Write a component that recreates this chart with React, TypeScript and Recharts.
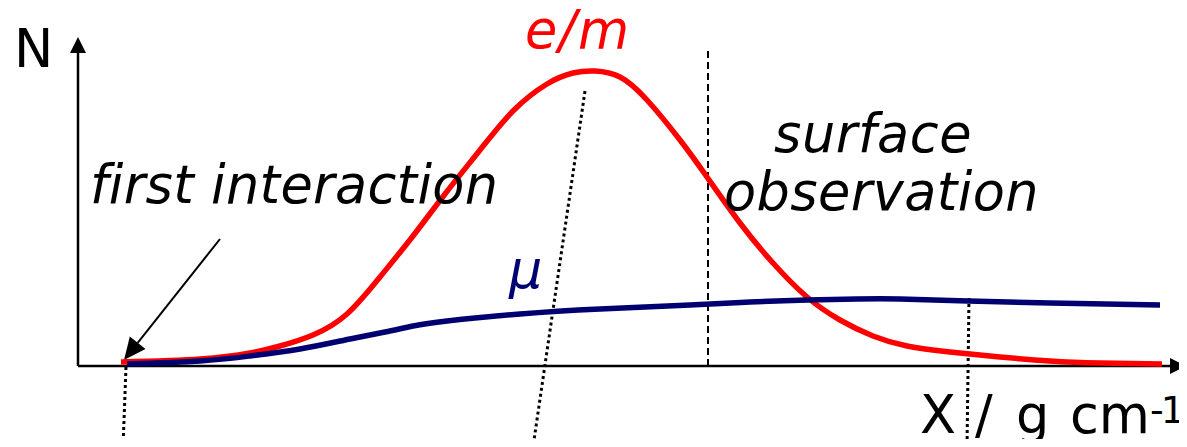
import React from "react";
import { ComposedChart, Line, XAxis, YAxis, ReferenceLine } from "recharts";

// depth (x) and counts (y), origin at the axes corner
const emDepth = [43, 122, 172, 202, 235, 269, 302, 335, 367, 402, 435, 469, 495, 517, 542, 569, 602, 629, 662, 695, 729, 762, 795, 829, 872, 922, 972, 1022, 1084];
const emCount = [4, 7, 13, 20, 31, 52, 89, 130, 172, 216, 255, 282, 293, 295, 289, 266, 226, 189, 143, 103, 69, 46, 30, 20, 14, 9, 5, 3, 2];

const muDepth = [49, 122, 172, 222, 272, 307, 335, 369, 442, 522, 612, 672, 729, 779, 822, 890, 972, 1082];
const muCount = [2, 5, 10, 17, 27, 34, 40, 45, 52, 57, 61, 64, 66, 67, 67, 65, 63, 61];

const emData = emDepth.map((x, i) => ({ x, y: emCount[i] }));
const muData = muDepth.map((x, i) => ({ x, y: muCount[i] }));

// guide lines (depth, count)
const surfaceDepth = 630;
const surfaceTop = 316;
const firstLine = [{ x: 48, y: -1 }, { x: 45, y: -81 }];
const maxLine = [{ x: 507, y: 275 }, { x: 455, y: -81 }];
const obsLine = [{ x: 891, y: 68 }, { x: 889, y: -81 }];
const pointer = [{ x: 142, y: 127 }, { x: 46, y: 6 }];
const xAxisLine = [{ x: 0, y: 0 }, { x: 1108, y: 0 }];
const yAxisLine = [{ x: 0, y: 0 }, { x: 0, y: 329 }];

const FONT = "'DejaVu Sans', Verdana, sans-serif";

const arrowShape = (w: number, len: number, half: number) => (props: any) => {
  const x1 = Number(props.x1), y1 = Number(props.y1), x2 = Number(props.x2), y2 = Number(props.y2);
  const a = Math.atan2(y2 - y1, x2 - x1);
  const bx = x2 - len * Math.cos(a);
  const by = y2 - len * Math.sin(a);
  const px = -Math.sin(a) * half;
  const py = Math.cos(a) * half;
  return (
    <g>
      <line x1={x1} y1={y1} x2={bx} y2={by} stroke="#000" strokeWidth={w} />
      <polygon points={`${x2},${y2} ${bx + px},${by + py} ${bx - px},${by - py}`} fill="#000" />
    </g>
  );
};

export default function App() {
  return (
    <div style={{ position: "relative", width: 1187, height: 447, margin: -8, background: "#fff" }}>
      <ComposedChart width={1187} height={447} margin={{ top: 0, right: 0, bottom: 0, left: 0 }}>
        <XAxis type="number" dataKey="x" domain={[-78, 1109]} hide allowDataOverflow />
        <YAxis type="number" dataKey="y" domain={[-81, 366]} hide allowDataOverflow />
        <ReferenceLine segment={xAxisLine} shape={arrowShape(2.5, 16, 8)} />
        <ReferenceLine segment={yAxisLine} shape={arrowShape(2.5, 16, 8)} />
        <ReferenceLine
          segment={[{ x: surfaceDepth, y: 0 }, { x: surfaceDepth, y: surfaceTop }]}
          stroke="#000"
          strokeWidth={2}
          strokeDasharray="7 4"
        />
        <ReferenceLine segment={firstLine} stroke="#000" strokeWidth={3} strokeDasharray="3 3" />
        <ReferenceLine segment={maxLine} stroke="#000" strokeWidth={3} strokeDasharray="3 3" />
        <ReferenceLine segment={obsLine} stroke="#000" strokeWidth={3} strokeDasharray="3 3" />
        <ReferenceLine segment={pointer} shape={arrowShape(2, 22, 10)} />
        <Line
          data={emData}
          dataKey="y"
          type="natural"
          stroke="#ff0000"
          strokeWidth={5.5}
          dot={false}
          isAnimationActive={false}
        />
        <Line
          data={muData}
          dataKey="y"
          type="natural"
          stroke="#000070"
          strokeWidth={5.5}
          dot={false}
          isAnimationActive={false}
        />
      </ComposedChart>
      <svg
        width={1187}
        height={447}
        style={{ position: "absolute", left: 0, top: 0, pointerEvents: "none", fontVariantLigatures: "none" }}
        fontFamily={FONT}
        fontSize={52.5}
      >
        <text x={14} y={67} fill="#000">N</text>
        <text x={525} y={48} fill="#ff0000" fontStyle="italic" letterSpacing={1.5}>e/m</text>
        <text x={90} y={203} fill="#000" fontStyle="italic" letterSpacing={0.3}>first interaction</text>
        <text x={774} y={152} fill="#000" fontStyle="italic" letterSpacing={0.6}>surface</text>
        <text x={724} y={210} fill="#000" fontStyle="italic" letterSpacing={0.4}>observation</text>
        <text x={509} y={288} fill="#000070" fontStyle="italic">μ</text>
        <text y={433} fill="#000">
          <tspan x={920}>X</tspan>
          <tspan x={975}>/</tspan>
          <tspan x={1016}>g</tspan>
          <tspan x={1070}>cm</tspan>
          <tspan x={1150} y={423} fontSize={38} letterSpacing={-3}>-1</tspan>
        </text>
      </svg>
    </div>
  );
}
